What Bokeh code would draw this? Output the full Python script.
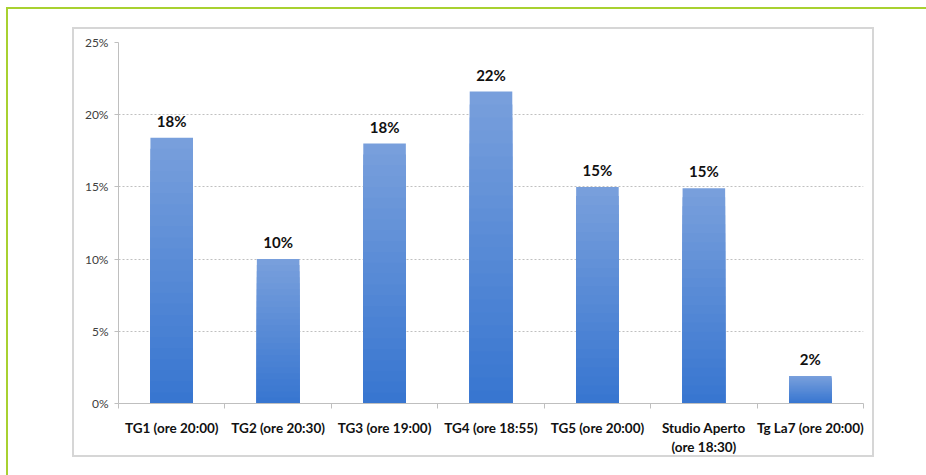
from bokeh.plotting import figure
from bokeh.models import FixedTicker, PrintfTickFormatter, Range1d, ColumnDataSource
from bokeh.core.properties import value
from bokeh.embed import file_html
from bokeh.resources import INLINE

categories = ["TG1 (ore 20:00)", "TG2 (ore 20:30)", "TG3 (ore 19:00)", "TG4 (ore 18:55)",
              "TG5 (ore 20:00)", "Studio Aperto\n(ore 18:30)", "Tg La7 (ore 20:00)"]
shares = [18.4, 10.0, 18.0, 21.6, 15.0, 14.9, 1.9]
y_ticks = [0, 5, 10, 15, 20, 25]

FONT = "Lato"
n = len(categories)
centers = [i + 0.5 for i in range(n)]
bounds = list(range(n + 1))

p = figure(width=926, height=475, x_range=Range1d(0, n), y_range=Range1d(0, 25),
           output_backend="svg", toolbar_location=None,
           min_border_left=118, min_border_right=63, min_border_top=42, min_border_bottom=72)
p.outline_line_color = None
p.background_fill_color = "white"
p.border_fill_color = None

# page decorations (green page border, light grey chart box) painted behind the canvas
green = "#a8d130"
grey = "#d6d6d6"
layers = [
    (green, "7px 7px", "100% 2px"),      # green top rule
    (green, "6px 7px", "2px 100%"),      # green left rule
    (grey, "73px 27px", "800px 2px"),    # chart box top
    (grey, "73px 455px", "800px 2px"),   # chart box bottom
    (grey, "72px 27px", "2px 430px"),    # chart box left
    (grey, "872px 27px", "2px 430px"),   # chart box right
]
p.styles = {
    "background-color": "white",
    "background-image": ", ".join(f"linear-gradient({c}, {c})" for c, _, _ in layers),
    "background-position": ", ".join(pos for _, pos, _ in layers),
    "background-size": ", ".join(sz for _, _, sz in layers),
    "background-repeat": "no-repeat",
}

# gradient-like bars (light top, darker bottom)
N = 24
c_top = (0x78, 0x9f, 0xdc)
c_bot = (0x38, 0x76, 0xd0)
for k in range(N):
    t = k / (N - 1)
    col = "#%02x%02x%02x" % tuple(int(round(a + (b - a) * t)) for a, b in zip(c_top, c_bot))
    tops = [v * (N - k) / N for v in shares]
    p.vbar(x=centers, top=tops, bottom=0, width=0.4, fill_color=col, line_color=None)

src = ColumnDataSource(dict(x=centers, y=shares, t=[f"{round(v)}%" for v in shares]))
p.text(x="x", y="y", text="t", source=src, text_font=value(FONT), text_font_style="bold",
       text_font_size="15px", text_align="center", text_baseline="bottom", y_offset=-8,
       text_color="#111111")

# axes
p.xaxis.ticker = FixedTicker(ticks=centers, minor_ticks=bounds)
p.xaxis.major_label_overrides = {c: lab for c, lab in zip(centers, categories)}
p.xaxis.major_tick_out = 0
p.xaxis.major_tick_in = 0
p.xaxis.minor_tick_out = 5
p.xaxis.minor_tick_in = 0
p.xaxis.minor_tick_line_color = "#bfbfbf"
p.xaxis.axis_line_color = "#bfbfbf"
p.xaxis.major_label_text_font = FONT
p.xaxis.major_label_text_font_style = "bold"
p.xaxis.major_label_text_font_size = "13.5px"
p.xaxis.major_label_text_color = "#111111"
p.xaxis.major_label_standoff = 11

p.yaxis.ticker = FixedTicker(ticks=y_ticks)
p.yaxis.formatter = PrintfTickFormatter(format="%d%%")
p.yaxis.major_tick_out = 4
p.yaxis.major_tick_in = 0
p.yaxis.minor_tick_line_color = None
p.yaxis.major_tick_line_color = "#bfbfbf"
p.yaxis.axis_line_color = "#bfbfbf"
p.yaxis.major_label_text_font = FONT
p.yaxis.major_label_text_font_size = "12px"
p.yaxis.major_label_text_color = "#404040"
p.yaxis.major_label_standoff = 6

p.xgrid.grid_line_color = None
p.ygrid.ticker = FixedTicker(ticks=y_ticks[1:])
p.ygrid.grid_line_color = "#c0c0c0"
p.ygrid.grid_line_dash = "2 2"

open("out.html", "w").write(file_html(p, INLINE))
